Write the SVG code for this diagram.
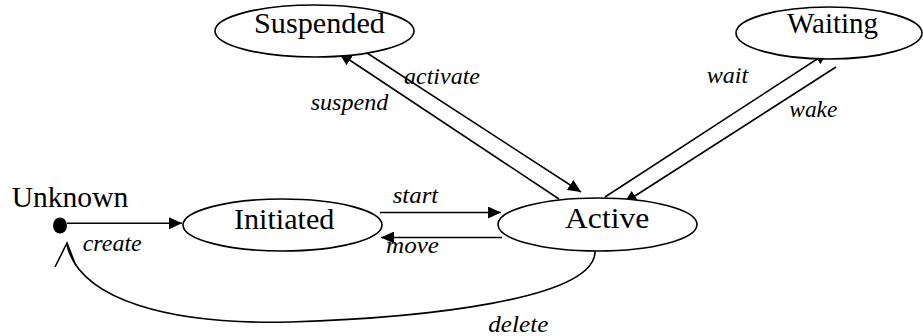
<svg xmlns="http://www.w3.org/2000/svg" width="923" height="336" viewBox="0 0 923 336">
<style>
.node{fill:#fff;stroke:#000;stroke-width:1.6}
.lbl{font-family:"Liberation Serif",Tinos,"Times New Roman",Times,"Nimbus Roman","FreeSerif","DejaVu Serif",serif;font-size:30px;fill:#000}
.ed{font-family:"Liberation Serif",Tinos,"Times New Roman",Times,"Nimbus Roman","FreeSerif","DejaVu Serif",serif;font-size:23px;font-style:italic;fill:#000}
.ln{fill:none;stroke:#000;stroke-width:1.6}
</style>
<defs>
<marker id="ah" markerUnits="userSpaceOnUse" markerWidth="14" markerHeight="12" refX="13" refY="6" orient="auto">
<path d="M0,0 L13,6 L0,12 z" fill="#000"/>
</marker>
</defs>
<rect width="923" height="336" fill="#fff"/>
<g id="connectors">
<path class="ln" d="M67,223.3 L182,223.3" marker-end="url(#ah)"/>
<path class="ln" d="M380,212.5 L501,212.5" marker-end="url(#ah)"/>
<path class="ln" d="M502,237.5 L381,237.5" marker-end="url(#ah)"/>
<path class="ln" d="M367,53 L581,192" marker-end="url(#ah)"/>
<path class="ln" d="M559,199 L339,53" marker-end="url(#ah)"/>
<path class="ln" d="M605,197 L828,52" marker-end="url(#ah)"/>
<path class="ln" d="M836,67 L624,203" marker-end="url(#ah)"/>
<path class="ln" d="M595,251 C596,300 420,318 290,322 C170,325 80,300 67,245"/>
<path class="ln" d="M55,267 L67,243 L76,266"/>
<text class="ed" x="82.7" y="250.7" textLength="59" lengthAdjust="spacingAndGlyphs">create</text>
<text class="ed" x="392.7" y="202.7" textLength="45.6" lengthAdjust="spacingAndGlyphs">start</text>
<text class="ed" x="386" y="253.3" textLength="53" lengthAdjust="spacingAndGlyphs">move</text>
<text class="ed" x="488.3" y="331.7" textLength="60" lengthAdjust="spacingAndGlyphs">delete</text>
<text class="ed" x="404" y="84" textLength="76" lengthAdjust="spacingAndGlyphs">activate</text>
<text class="ed" x="310.7" y="110" textLength="77.6" lengthAdjust="spacingAndGlyphs">suspend</text>
<text class="ed" x="706.7" y="83.3" textLength="41.6" lengthAdjust="spacingAndGlyphs">wait</text>
<text class="ed" x="789.3" y="116.7" textLength="48" lengthAdjust="spacingAndGlyphs">wake</text>
</g>
<g id="unknown">
<ellipse cx="60" cy="225.5" rx="7" ry="8" fill="#000"/>
<text class="lbl" x="11.7" y="206.7" textLength="116.6" lengthAdjust="spacingAndGlyphs">Unknown</text>
</g>
<g id="suspended">
<ellipse class="node" cx="314.5" cy="31" rx="99.5" ry="26"/>
<text class="lbl" x="254" y="33" textLength="131" lengthAdjust="spacingAndGlyphs">Suspended</text>
</g>
<g id="waiting">
<ellipse class="node" cx="829" cy="33" rx="93" ry="26"/>
<text class="lbl" x="787" y="33" textLength="91" lengthAdjust="spacingAndGlyphs">Waiting</text>
</g>
<g id="initiated">
<ellipse class="node" cx="282.5" cy="225" rx="99.5" ry="26"/>
<text class="lbl" x="234" y="229.3" textLength="100.3" lengthAdjust="spacingAndGlyphs">Initiated</text>
</g>
<g id="active">
<ellipse class="node" cx="597.5" cy="224.5" rx="99.5" ry="26.5"/>
<text class="lbl" x="565" y="228.3" textLength="84.3" lengthAdjust="spacingAndGlyphs">Active</text>
</g>
</svg>
